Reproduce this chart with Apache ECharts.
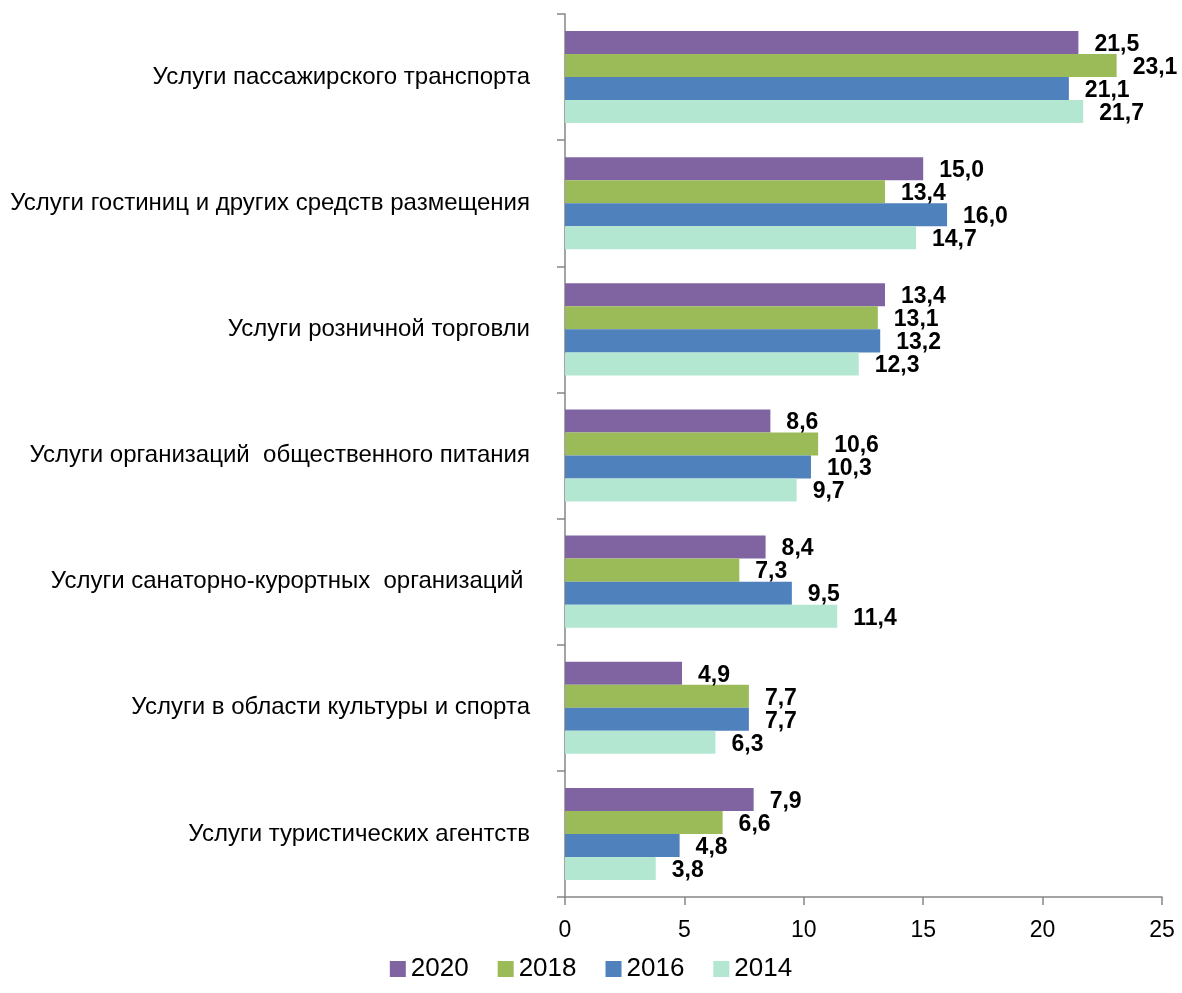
<!DOCTYPE html>
<html>
<head>
<meta charset="utf-8">
<script src="https://cdn.jsdelivr.net/npm/echarts@6/dist/echarts.min.js"></script>
<style>
html,body{margin:0;padding:0;background:#fff;}
#chart{width:1182px;height:993px;}
</style>
</head>
<body>
<div id="chart"></div>
<script>
const categories = [
  'Услуги пассажирского транспорта',
  'Услуги гостиниц и других средств размещения',
  'Услуги розничной торговли',
  'Услуги организаций  общественного питания',
  'Услуги санаторно-курортных  организаций ',
  'Услуги в области культуры и спорта',
  'Услуги туристических агентств'
];
const seriesNames = ['2020', '2018', '2016', '2014'];
const values2020 = [21.5, 15.0, 13.4, 8.6, 8.4, 4.9, 7.9];
const values2018 = [23.1, 13.4, 13.1, 10.6, 7.3, 7.7, 6.6];
const values2016 = [21.1, 16.0, 13.2, 10.3, 9.5, 7.7, 4.8];
const values2014 = [21.7, 14.7, 12.3, 9.7, 11.4, 6.3, 3.8];
const xTicks = [0, 5, 10, 15, 20, 25];

const colors = ['#8064A2', '#9BBB59', '#4F81BD', '#B3E7D1'];
const allValues = [values2020, values2018, values2016, values2014];
const FONT = 'Liberation Sans, Arial, sans-serif';

const chart = echarts.init(document.getElementById('chart'), null, {renderer: 'canvas'});
chart.setOption({
  animation: false,
  color: colors,
  grid: {left: 565, right: 20, top: 14, bottom: 96, containLabel: false},
  legend: {
    bottom: 6,
    left: 'center',
    itemWidth: 16,
    itemHeight: 16,
    itemGap: 29,
    icon: 'rect',
    textStyle: {fontFamily: FONT, fontSize: 26, color: '#000'},
    data: seriesNames
  },
  xAxis: {
    type: 'value',
    min: xTicks[0],
    max: xTicks[xTicks.length - 1],
    interval: 5,
    splitLine: {show: false},
    axisLine: {show: true, lineStyle: {color: '#868686', width: 1.5}},
    axisTick: {show: true, length: 8, lineStyle: {color: '#868686', width: 1.5}},
    axisLabel: {fontFamily: FONT, fontSize: 23, color: '#000', margin: 22}
  },
  yAxis: {
    type: 'category',
    inverse: true,
    data: categories,
    axisLine: {show: true, lineStyle: {color: '#868686', width: 1.5}},
    axisTick: {show: true, length: 8, lineStyle: {color: '#868686', width: 1.5}},
    axisLabel: {fontFamily: FONT, fontSize: 24, color: '#000', margin: 35}
  },
  series: seriesNames.map((name, i) => ({
    name: name,
    type: 'bar',
    data: allValues[i],
    barGap: '0%',
    barCategoryGap: '27%',
    label: {
      show: true,
      position: 'right',
      distance: 16,
      offset: [0, 2],
      fontFamily: FONT,
      fontSize: 23,
      fontWeight: 'bold',
      color: '#000',
      formatter: p => p.value.toFixed(1).replace('.', ',')
    }
  }))
});
</script>
</body>
</html>
